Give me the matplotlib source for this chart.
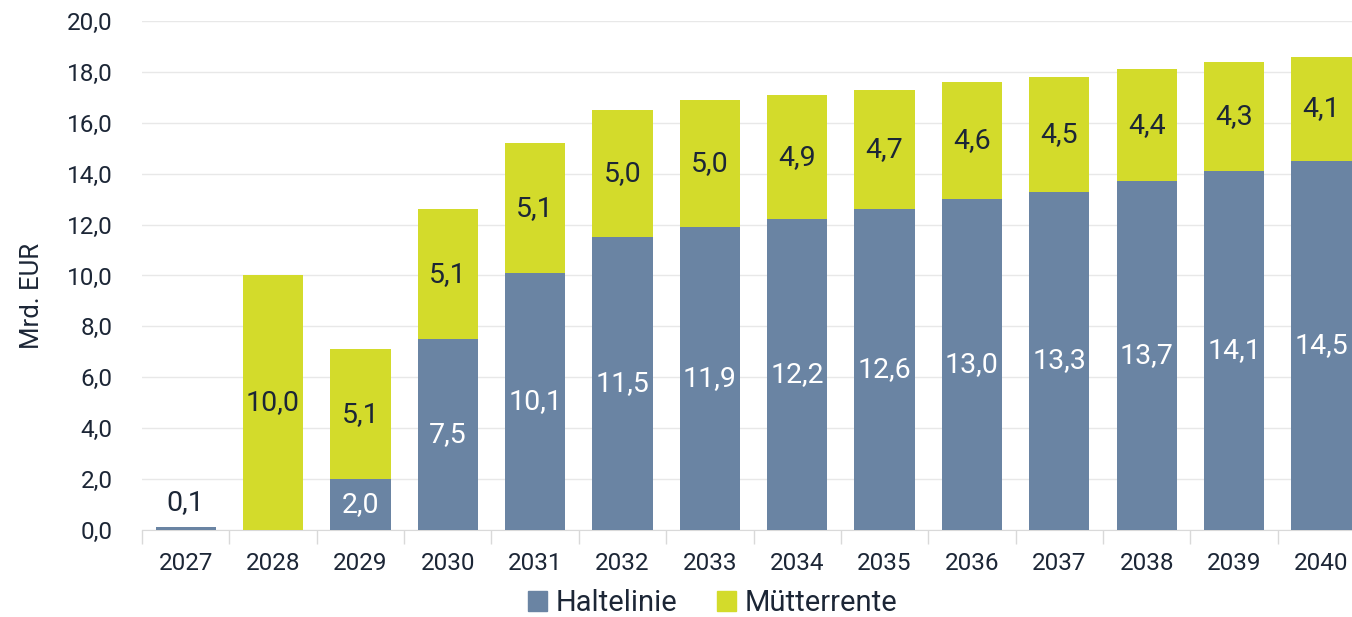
import matplotlib
matplotlib.use("Agg")
import matplotlib.pyplot as plt
import numpy as np
from matplotlib.patches import Patch

years = ["2027", "2028", "2029", "2030", "2031", "2032", "2033", "2034",
         "2035", "2036", "2037", "2038", "2039", "2040"]
haltelinie = [0.1, 0.0, 2.0, 7.5, 10.1, 11.5, 11.9, 12.2, 12.6, 13.0, 13.3, 13.7, 14.1, 14.5]
muetterrente = [0.0, 10.0, 5.1, 5.1, 5.1, 5.0, 5.0, 4.9, 4.7, 4.6, 4.5, 4.4, 4.3, 4.1]
yticks = [0, 2, 4, 6, 8, 10, 12, 14, 16, 18, 20]

c_blue = "#6a84a3"
c_green = "#d3db2b"
c_text = "#1c2636"
plt.rcParams['font.family'] = ["Roboto", 'DejaVu Sans']

fig = plt.figure(figsize=(13.52, 6.17), dpi=100)
ax = fig.add_axes([0.105, 0.141, 0.895, 0.825])

x = np.arange(len(years))
w = 0.69
ax.bar(x, haltelinie, width=w, color=c_blue, zorder=3)
ax.bar(x, muetterrente, width=w, bottom=haltelinie, color=c_green, zorder=3)

def fmt(v):
    return f"{v:.1f}".replace(".", ",")

lab_fs = 20.5
for i in range(len(years)):
    h = haltelinie[i]
    m = muetterrente[i]
    if h > 0:
        if h < 1.0:
            ax.text(x[i], h + 0.45, fmt(h), ha="center", va="bottom",
                    color=c_text, fontsize=lab_fs, zorder=4)
        else:
            ax.text(x[i], h / 2, fmt(h), ha="center", va="center",
                    color="white", fontsize=lab_fs, zorder=4)
    if m > 0:
        ax.text(x[i], h + m / 2, fmt(m), ha="center", va="center",
                color=c_text, fontsize=lab_fs, zorder=4)

ax.set_yticks(yticks)
ax.set_yticklabels([fmt(v) for v in yticks], fontsize=17.5, color=c_text)
ax.set_xticks(x)
ax.set_xticklabels(years, fontsize=17.5, color=c_text)
ax.set_xticks(np.arange(-0.5, len(years), 1.0), minor=True)
ax.set_ylim(0, 20)
ax.set_xlim(-0.5, 13.35)
ax.tick_params(axis="x", which="major", length=0, pad=16)
ax.tick_params(axis="x", which="minor", length=10, color="#d9d9d9", width=1)
ax.tick_params(axis="y", length=0, pad=21)
ax.grid(axis="y", color="#e8e8e8", linewidth=1, zorder=0)
for s in ["top", "right", "left"]:
    ax.spines[s].set_visible(False)
ax.spines["bottom"].set_color("#d9d9d9")
ax.set_ylabel("Mrd. EUR", fontsize=18.5, color=c_text)
ax.yaxis.set_label_coords(-0.081, 0.46)

handles = [Patch(color=c_blue, label="Haltelinie"), Patch(color=c_green, label="Mütterrente")]
leg = fig.legend(handles=handles, loc="center", bbox_to_anchor=(0.527, 0.022),
                 ncol=2, frameon=False, fontsize=21, handlelength=0.66, handleheight=0.66,
                 handletextpad=0.3, columnspacing=1.35, borderpad=0)
for t in leg.get_texts():
    t.set_color(c_text)

fig.savefig("out.png", dpi=100)
